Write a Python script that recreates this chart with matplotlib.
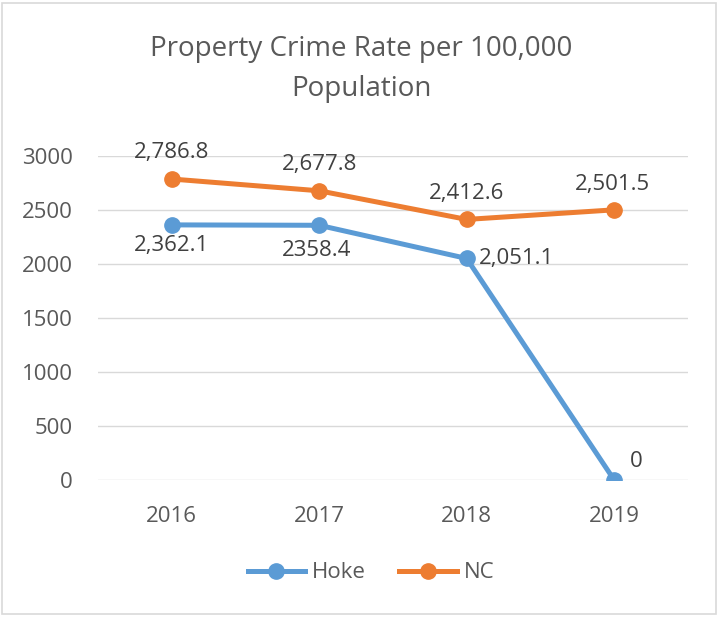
import matplotlib
matplotlib.use('Agg')
import matplotlib.pyplot as plt
from matplotlib.patches import Rectangle

# --- DATA ---
years = ["2016", "2017", "2018", "2019"]
hoke = [2362.1, 2358.4, 2051.1, 0]
nc = [2786.8, 2677.8, 2412.6, 2501.5]
hoke_labels = ["2,362.1", "2358.4", "2,051.1", "0"]
nc_labels = ["2,786.8", "2,677.8", "2,412.6", "2,501.5"]
yticks = [0, 500, 1000, 1500, 2000, 2500, 3000]

BLUE = '#5B9BD5'
ORANGE = '#ED7D31'
TXT = '#595959'
GRID = '#D9D9D9'
FS = 16

plt.rcParams['font.family'] = ['Open Sans', 'DejaVu Sans']

fig = plt.figure(figsize=(7.23, 6.2), dpi=100)
fig.patches.append(Rectangle((0.003, 0.01), 0.988, 0.985, transform=fig.transFigure,
                             fill=False, ec='#D9D9D9', lw=1.2))

ax = fig.add_axes([0.1355, 0.2258, 0.816, 0.5226])
x = list(range(len(years)))

ax.plot(x, hoke, color=BLUE, lw=3.6, marker='o', ms=11, label='Hoke', zorder=3)
ax.plot(x, nc, color=ORANGE, lw=3.6, marker='o', ms=11, label='NC', zorder=3)

ax.set_xlim(-0.5, 3.5)
ax.set_ylim(0, 3000)
ax.set_yticks(yticks)
ax.set_xticks(x)
ax.set_xticklabels(years)
ax.grid(axis='y', color=GRID, lw=1)
ax.set_axisbelow(True)
for s in ax.spines.values():
    s.set_visible(False)
ax.tick_params(length=0, labelsize=FS, colors=TXT)
ax.tick_params(axis='x', pad=19)
ax.tick_params(axis='y', pad=18)

# data labels (offsets in points)
hoke_off = [(0, -15), (-2, -18), (9, 0), (16, 13)]
hoke_ha = ['center', 'center', 'left', 'center']
nc_off = [(0, 19), (0, 19), (0, 18.5), (-1, 18)]
for i in x:
    ax.annotate(hoke_labels[i], (i, hoke[i]), xytext=hoke_off[i], textcoords='offset points',
                ha=hoke_ha[i], va='center', fontsize=FS, color='#404040')
    ax.annotate(nc_labels[i], (i, nc[i]), xytext=nc_off[i], textcoords='offset points',
                ha='center', va='center', fontsize=FS, color='#404040')

fig.text(0.5, 0.889, "Property Crime Rate per 100,000\nPopulation", ha='center', va='center',
         fontsize=20, color=TXT, linespacing=1.6)

fig.legend(loc='center', bbox_to_anchor=(0.513, 0.076), ncol=2, frameon=False,
           fontsize=FS, labelcolor=TXT, handlelength=2.6, handletextpad=0.3, columnspacing=1.5)

fig.savefig('out.png', dpi=100)
